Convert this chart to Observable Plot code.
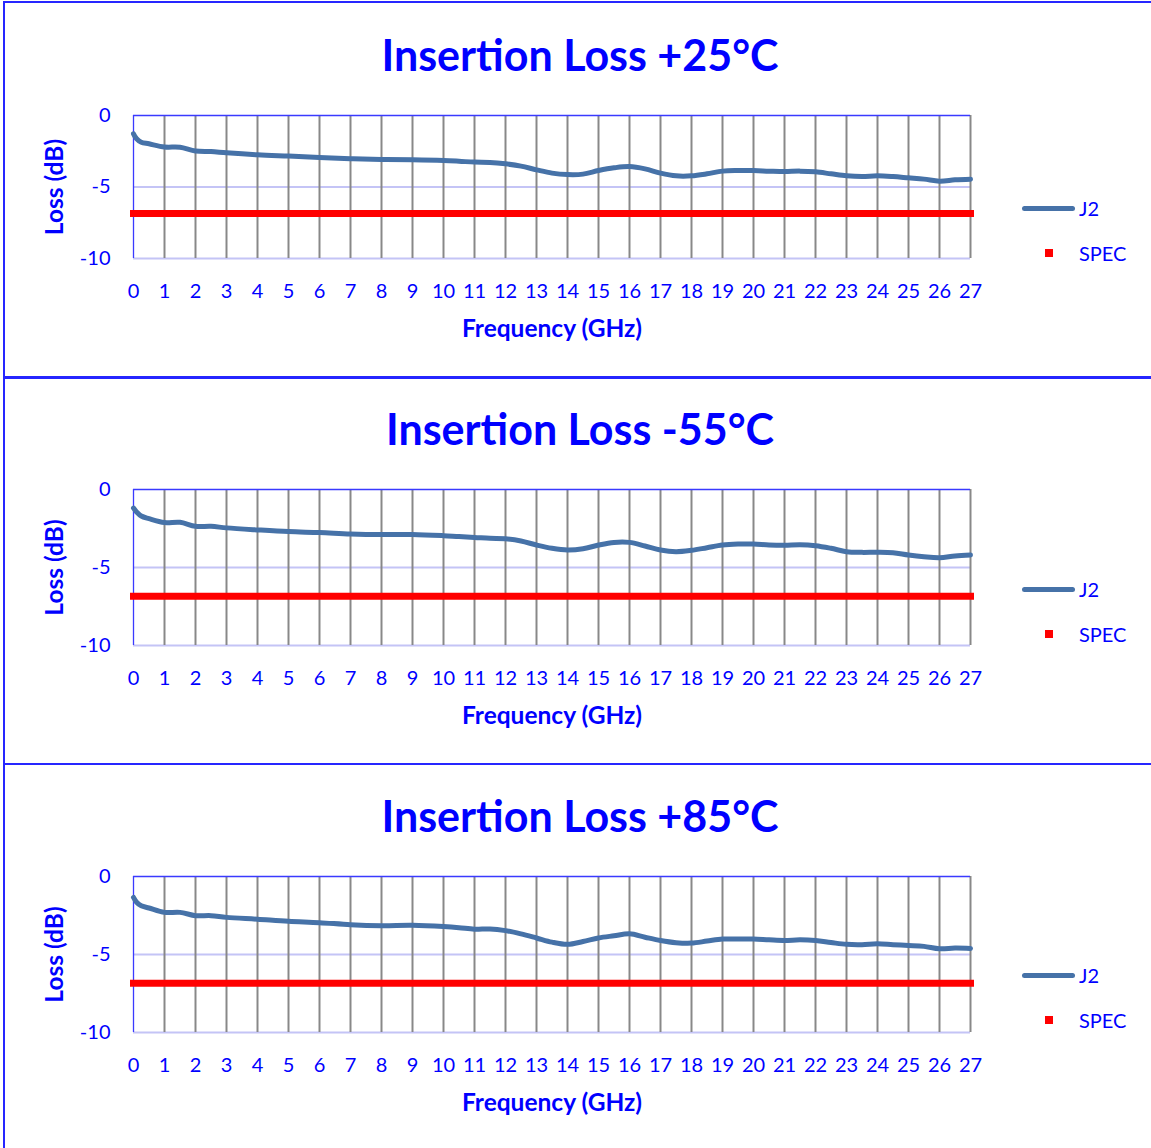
<!DOCTYPE html>
<html>
<head>
<meta charset="utf-8">
<script src="https://cdn.jsdelivr.net/npm/d3@7"></script>
<script src="https://cdn.jsdelivr.net/npm/@observablehq/plot@0.6"></script>
<style>
  html, body { margin: 0; padding: 0; background: #fff; overflow: hidden; }
  #page { position: relative; width: 1151px; height: 1148px; overflow: hidden; font-family: Lato, "Open Sans", sans-serif; color: #0000ff; }
  .frame { position: absolute; left: 3px; width: 1170px; border: 2px solid #2626ff; box-sizing: border-box; }
  .title { position: absolute; left: 0; width: 1160px; text-align: center; font-size: 43px; font-weight: bold; line-height: 50px; color: #0000ff; }
  .chart { position: absolute; left: 0; }
  .legline { position: absolute; left: 1022px; width: 53px; height: 5px; border-radius: 3px; background: #4672a8; }
  .legsq { position: absolute; left: 1045px; width: 8px; height: 8px; background: #ff0000; }
  .legtxt { position: absolute; left: 1079px; font-size: 20px; line-height: 24px; color: #0000ff; }
</style>
</head>
<body>
<div id="page"></div>
<script>
// ---- data ----
const freq = [0, 0.1, 0.25, 0.5, 1, 1.5, 2, 2.5, 3, 4, 5, 6, 7, 8, 9, 10, 10.5, 11, 11.5, 12, 12.5, 13, 13.5, 14, 14.5, 15, 15.5, 16, 16.5, 17, 17.5, 18, 18.5, 19, 19.5, 20, 20.5, 21, 21.5, 22, 22.5, 23, 23.5, 24, 24.5, 25, 25.5, 26, 26.5, 27];
const lossP25 = [-1.28, -1.63, -1.87, -1.98, -2.2, -2.22, -2.48, -2.52, -2.61, -2.75, -2.84, -2.93, -3.02, -3.08, -3.10, -3.15, -3.2, -3.26, -3.28, -3.38, -3.54, -3.80, -4.03, -4.13, -4.10, -3.85, -3.66, -3.57, -3.73, -4.03, -4.22, -4.22, -4.08, -3.89, -3.85, -3.85, -3.89, -3.92, -3.89, -3.94, -4.08, -4.22, -4.27, -4.22, -4.27, -4.36, -4.45, -4.59, -4.5, -4.45];
const lossM55 = [-1.19, -1.44, -1.7, -1.87, -2.12, -2.1, -2.36, -2.36, -2.46, -2.59, -2.70, -2.76, -2.85, -2.89, -2.88, -2.96, -3.02, -3.07, -3.13, -3.16, -3.30, -3.56, -3.77, -3.88, -3.80, -3.56, -3.39, -3.39, -3.62, -3.88, -3.99, -3.90, -3.73, -3.56, -3.50, -3.50, -3.56, -3.58, -3.54, -3.60, -3.77, -3.99, -4.03, -4.02, -4.05, -4.20, -4.31, -4.37, -4.26, -4.20];
const lossP85 = [-1.34, -1.65, -1.88, -2.02, -2.30, -2.30, -2.51, -2.51, -2.62, -2.74, -2.87, -2.96, -3.09, -3.15, -3.13, -3.21, -3.28, -3.38, -3.36, -3.47, -3.68, -3.94, -4.21, -4.35, -4.17, -3.94, -3.80, -3.67, -3.89, -4.10, -4.24, -4.27, -4.14, -4.01, -4.01, -4.01, -4.06, -4.10, -4.06, -4.10, -4.23, -4.35, -4.37, -4.31, -4.37, -4.42, -4.48, -4.63, -4.59, -4.61];
const specLevel = -6.85;
const xTicks = d3.range(0, 28);
const yTicks = [0, -5, -10];
const titles = ["Insertion Loss +25°C", "Insertion Loss -55°C", "Insertion Loss +85°C"];
const seriesName = "J2";
const specName = "SPEC";
const xLabel = "Frequency (GHz)";
const yLabel = "Loss (dB)";

// ---- layout per panel ----
const panels = [
  {loss: lossP25, top: 0,   h: 377, mt: 115, mb: 119, frameTop: 1,   frameH: 378, titleY: 55,  legJ: 208, legS: 253},
  {loss: lossM55, top: 377, h: 386, mt: 112, mb: 118, frameTop: 376, frameH: 389, titleY: 429, legJ: 589, legS: 634},
  {loss: lossP85, top: 763, h: 385, mt: 113, mb: 116, frameTop: 763, frameH: 400, titleY: 816, legJ: 975, legS: 1020}
];

const page = document.getElementById("page");
const blue = "#0000ff";

panels.forEach((p, i) => {
  const fr = document.createElement("div");
  fr.className = "frame";
  fr.style.top = p.frameTop + "px";
  fr.style.height = p.frameH + "px";
  page.appendChild(fr);

  const data = freq.map((f, k) => ({f, v: p.loss[k]}));
  const spec = xTicks.map(f => ({f, v: specLevel}));

  const chart = Plot.plot({
    width: 1151,
    height: p.h,
    marginLeft: 133,
    marginRight: 181,
    marginTop: p.mt,
    marginBottom: p.mb,
    style: {fontFamily: "Lato, 'Open Sans', sans-serif", background: "transparent", overflow: "visible"},
    x: {domain: [0, 27]},
    y: {domain: [-10, 0]},
    marks: [
      Plot.ruleY([-5, -10], {stroke: "#c4c4f6", strokeWidth: 2}),
      Plot.ruleX(xTicks.slice(1), {y1: -10, y2: 0, stroke: "#888888", strokeWidth: 2}),
      Plot.ruleY([0], {stroke: "#3a3aff", strokeWidth: 1.3}),
      Plot.ruleX([0], {y1: -10, y2: 0, stroke: "#3a3aff", strokeWidth: 1.3}),
      Plot.axisX({ticks: xTicks, tickSize: 0, tickPadding: 25, fontSize: 20, color: blue, label: null, tickFormat: d => String(d)}),
      Plot.axisY({ticks: yTicks, tickSize: 0, tickPadding: 23, fontSize: 20, color: blue, label: null, tickFormat: d => String(d)}),
      Plot.line(spec, {x: "f", y: "v", stroke: "#ff0000", strokeWidth: 7, strokeLinecap: "square"}),
      Plot.line(data, {x: "f", y: "v", stroke: "#4672a8", strokeWidth: 5, curve: "catmull-rom", strokeLinecap: "round", strokeLinejoin: "round"}),
      Plot.text([xLabel], {frameAnchor: "bottom", lineAnchor: "middle", dy: 71, text: d => d, fill: blue, fontSize: 24.5, fontWeight: "bold"}),
      Plot.text([yLabel], {frameAnchor: "left", textAnchor: "middle", lineAnchor: "middle", dx: -78, rotate: -90, text: d => d, fill: blue, fontSize: 24.5, fontWeight: "bold"})
    ]
  });
  chart.classList.add("chart");
  chart.style.top = p.top + "px";
  page.appendChild(chart);

  const t = document.createElement("div");
  t.className = "title";
  t.textContent = titles[i];
  t.style.top = (p.titleY - 25) + "px";
  page.appendChild(t);

  const ll = document.createElement("div");
  ll.className = "legline";
  ll.style.top = (p.legJ - 2.5) + "px";
  page.appendChild(ll);
  const lt = document.createElement("div");
  lt.className = "legtxt";
  lt.textContent = seriesName;
  lt.style.top = (p.legJ - 12) + "px";
  page.appendChild(lt);

  const ls = document.createElement("div");
  ls.className = "legsq";
  ls.style.top = (p.legS - 4) + "px";
  page.appendChild(ls);
  const st = document.createElement("div");
  st.className = "legtxt";
  st.textContent = specName;
  st.style.top = (p.legS - 12) + "px";
  page.appendChild(st);
});
</script>
</body>
</html>
